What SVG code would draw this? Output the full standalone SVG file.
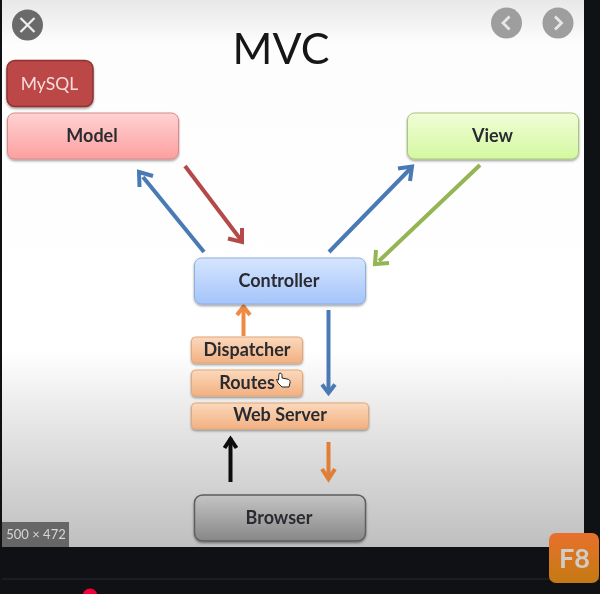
<svg xmlns="http://www.w3.org/2000/svg" width="600" height="594" viewBox="0 0 600 594">
<style>
text{font-family:"Lato","Open Sans","Liberation Sans",sans-serif;text-anchor:middle}
.lbl{font-size:18px;font-weight:700;fill:#2a2c30}
.c{fill:none;stroke-width:4;stroke-linecap:butt}
.h{fill:none;stroke-width:4;stroke-linecap:butt;stroke-linejoin:miter}
.n{filter:url(#sh)}
</style>
<defs>
<linearGradient id="bg" x1="0" y1="0" x2="0" y2="1">
<stop offset="0" stop-color="#e8e8e8"/><stop offset="0.08" stop-color="#fdfdfd"/><stop offset="0.64" stop-color="#ffffff"/><stop offset="0.74" stop-color="#ececec"/><stop offset="1" stop-color="#bfbfbf"/>
</linearGradient>
<linearGradient id="red" x1="0" y1="0" x2="0" y2="1"><stop offset="0" stop-color="#ffd2d2"/><stop offset="1" stop-color="#fd9f9f"/></linearGradient>
<linearGradient id="grn" x1="0" y1="0" x2="0" y2="1"><stop offset="0" stop-color="#f1fdd8"/><stop offset="1" stop-color="#d4f8a0"/></linearGradient>
<linearGradient id="blu" x1="0" y1="0" x2="0" y2="1"><stop offset="0" stop-color="#d6e5ff"/><stop offset="1" stop-color="#a4c4fa"/></linearGradient>
<linearGradient id="org" x1="0" y1="0" x2="0" y2="1"><stop offset="0" stop-color="#fbd9bc"/><stop offset="1" stop-color="#f2b081"/></linearGradient>
<linearGradient id="gry" x1="0" y1="0" x2="0" y2="1"><stop offset="0" stop-color="#c4c4c4"/><stop offset="1" stop-color="#878787"/></linearGradient>
<linearGradient id="f8" x1="0" y1="0" x2="0" y2="1"><stop offset="0" stop-color="#e8702e"/><stop offset="1" stop-color="#c47a12"/></linearGradient>
<filter id="sh" x="-10%" y="-20%" width="120%" height="150%"><feDropShadow dx="0" dy="1.500" stdDeviation="1" flood-color="#000" flood-opacity="0.4"/></filter>
<filter id="soft" x="0" y="0" width="100%" height="100%"><feGaussianBlur stdDeviation="0.450"/></filter>
</defs>
<rect width="600" height="594" fill="#0f1114"/>
<g filter="url(#soft)">
<rect x="2" y="0" width="582" height="547" fill="url(#bg)"/>
<rect x="2" y="578.500" width="598" height="1" fill="#2c2d30"/>
<circle cx="90" cy="596" r="7.500" fill="#f5003c"/>
<text x="281" y="64" style="font-size:43px" fill="#151515">MVC</text>

<g id="connectors">
<g stroke="#4a7ab5">
<path class="c" d="M204 252L143 177"/><path class="h" d="M139.500 187L139 172L153 176"/>
<path class="c" d="M329 252L410 169"/><path class="h" d="M398 168.500L412 166.500L410 181"/>
<path class="c" d="M328.500 310V392"/><path class="h" d="M322 384.500L328.500 393L335 384.500"/>
</g>
<g stroke="#b5494a">
<path class="c" d="M185 166L241 240"/><path class="h" d="M228 238.500L242 242L242 228"/>
</g>
<g stroke="#94b553">
<path class="c" d="M480 165L379 261"/><path class="h" d="M376 250L375 264L389 263"/>
</g>
<g stroke="#ee8a44">
<path class="c" d="M243.500 336V307"/><path class="h" d="M237 315L243.500 306.500L250 315"/>
</g>
<g stroke="#0a0a0a">
<path class="c" d="M230.500 482V438"/><path class="h" d="M224.500 448L230.500 439L236.500 448"/>
</g>
<g stroke="#df7f35">
<path class="c" d="M328.500 442V479"/><path class="h" d="M322 469L328.500 479L335 469"/>
</g>
</g>

<g id="mysql" class="n"><rect x="7" y="60.500" width="86" height="46" rx="8" fill="#bb4746" stroke="#8f3232" stroke-width="1.500"/><text x="49.500" y="90" style="font-size:17.500px" fill="#f6dcdc">MySQL</text></g>
<g id="model" class="n"><rect x="7.500" y="113" width="171" height="46" rx="7" fill="url(#red)" stroke="#d98a8a" stroke-width="1"/><text class="lbl" x="92" y="142">Model</text></g>
<g id="view" class="n"><rect x="407.500" y="113" width="171" height="46" rx="7" fill="url(#grn)" stroke="#a8c77a" stroke-width="1"/><text class="lbl" x="492.500" y="142">View</text></g>
<g id="controller" class="n"><rect x="194.500" y="258" width="171" height="46" rx="7" fill="url(#blu)" stroke="#8eb0dd" stroke-width="1"/><text class="lbl" x="279" y="287">Controller</text></g>
<g id="dispatcher" class="n"><rect x="191.500" y="337" width="111" height="26" rx="4" fill="url(#org)" stroke="#e2a878" stroke-width="1"/><text class="lbl" x="247" y="356">Dispatcher</text></g>
<g id="routes" class="n"><rect x="191.500" y="370" width="111" height="26" rx="4" fill="url(#org)" stroke="#e2a878" stroke-width="1"/><text class="lbl" x="247" y="389">Routes</text></g>
<g id="webserver" class="n"><rect x="191.500" y="403" width="177" height="26" rx="4" fill="url(#org)" stroke="#e2a878" stroke-width="1"/><text class="lbl" x="280" y="421">Web Server</text></g>
<g id="browser" class="n"><rect x="194.500" y="495" width="171" height="46" rx="8" fill="url(#gry)" stroke="#5e5e5e" stroke-width="1.500"/><text class="lbl" x="279" y="524">Browser</text></g>

<path d="M279 373.500c1.500-1 3 0 3 2l0 2.500 5 1c2.500.5 3.500 1.500 3 4l-1 4h-7l-4-4-1.500-3.500 2 .5z" fill="#fff" stroke="#222" stroke-width="1"/>

<circle cx="27.500" cy="25" r="15.500" fill="#6b6b6b"/>
<path d="M20.500 18L34.500 32M34.500 18L20.500 32" stroke="#eee" stroke-width="2.200" fill="none"/>
<circle cx="506.500" cy="23" r="15.500" fill="#9e9e9e"/>
<path d="M509.500 16.500L503 23L509.500 29.500" stroke="#e8e8e8" stroke-width="2.800" fill="none"/>
<circle cx="558" cy="23" r="15.500" fill="#9e9e9e"/>
<path d="M555 16.500L561.500 23L555 29.500" stroke="#e8e8e8" stroke-width="2.800" fill="none"/>

<rect x="2" y="522" width="67" height="25" fill="#666666"/>
<text x="36" y="539" style="font-size:13px" fill="#d6d6d6">500 × 472</text>
<rect x="549" y="533" width="50" height="50" rx="7" fill="url(#f8)"/>
<text x="574.500" y="568" style="font-size:27px;font-weight:700" fill="#d2cdc4">F8</text>
</g>
</svg>
